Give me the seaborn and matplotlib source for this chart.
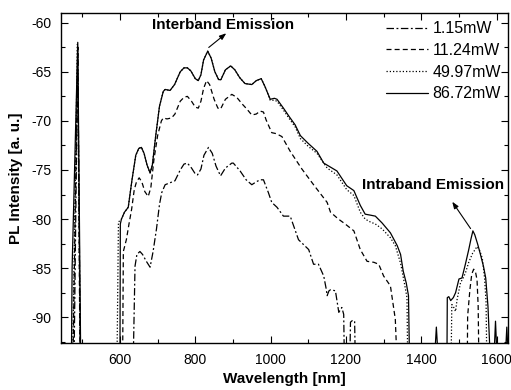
import numpy as np
import pandas as pd
import matplotlib
matplotlib.use("Agg")
import matplotlib.pyplot as plt
import seaborn as sns
from matplotlib.ticker import MultipleLocator

# wavelength [nm] / PL intensity [a.u.], -95 = below the axis
wl_86 = [471, 473, 488, 496,
         600, 601, 604, 612, 622, 632, 642, 650, 657, 664, 672, 680, 686, 695, 705, 715,
         720, 733, 745, 760, 770, 779, 788, 800, 808, 815, 822, 833, 842, 852, 862, 868,
         880, 894, 905, 918, 932, 950, 962, 975, 985, 999, 1010, 1017, 1034, 1050, 1065,
         1079, 1100, 1123, 1141, 1176, 1202, 1221, 1238, 1251, 1265, 1278, 1296, 1318,
         1336, 1345, 1352, 1360, 1366, 1369,
         1434, 1440, 1446,
         1468, 1469, 1473, 1478, 1485, 1491, 1500, 1508, 1517, 1526, 1532, 1537, 1542,
         1550, 1557, 1565, 1571, 1577, 1584,
         1592, 1597, 1602, 1622, 1627, 1632]
pl_86 = [-95, -85, -62.0, -95,
         -95, -80.5, -80.0, -79.3, -78.8, -76.0, -73.5, -72.8, -72.7, -73.3, -74.5, -75.3, -74.5, -71.5, -68.5, -67.0,
         -66.8, -66.9, -66.3, -65.0, -64.6, -64.6, -64.9, -65.7, -65.9, -65.3, -63.8, -62.9, -63.6, -65.0, -65.8, -65.8,
         -64.8, -64.4, -64.8, -65.6, -66.2, -66.3, -65.9, -65.7, -66.5, -67.8, -67.7, -67.8, -68.7, -69.6, -70.4,
         -71.5, -72.3, -73.1, -74.3, -75.1, -76.6, -77.1, -78.6, -79.5, -79.6, -79.7, -80.4, -81.4,
         -82.7, -83.6, -85.3, -86.5, -87.8, -95,
         -95, -91.0, -95,
         -95, -88.0, -87.9, -88.3, -88.0, -87.5, -86.1, -86.0, -84.6, -83.1, -82.0, -81.2, -81.6,
         -82.6, -83.6, -84.8, -86.0, -88.9, -95,
         -95, -90.4, -95, -95, -91.0, -95]

wl_50 = [474, 487, 495,
         592, 596, 604, 612, 622, 632, 642, 650, 657, 664, 672, 680, 686, 695, 705, 715,
         720, 733, 745, 760, 770, 779, 788, 800, 808, 815, 822, 833, 842, 852, 862, 868,
         880, 894, 905, 918, 932, 950, 962, 975, 985, 999, 1010, 1017, 1034, 1050, 1065,
         1079, 1100, 1123, 1150, 1176, 1202, 1221, 1238, 1251, 1265, 1278, 1296, 1318,
         1331, 1345, 1355, 1362, 1364,
         1479, 1481, 1485, 1491, 1495, 1504, 1511, 1517, 1526, 1536, 1548, 1555, 1562,
         1568, 1572, 1574]
pl_50 = [-95, -62.2, -95,
         -95, -80.3, -80.0, -79.3, -78.8, -76.0, -73.5, -72.8, -72.7, -73.3, -74.5, -75.3, -74.5, -71.5, -68.5, -67.0,
         -66.8, -66.9, -66.3, -65.0, -64.6, -64.6, -64.9, -65.7, -65.9, -65.3, -63.8, -62.9, -63.6, -65.0, -65.8, -65.8,
         -64.8, -64.4, -64.8, -65.6, -66.2, -66.3, -65.9, -65.7, -66.5, -67.9, -67.9, -68.0, -68.9, -69.8, -70.6,
         -71.8, -72.6, -73.3, -74.8, -75.5, -77.0, -77.6, -79.3, -80.0, -80.3, -80.5, -81.0, -81.9,
         -82.7, -84.5, -86.5, -88.0, -95,
         -95, -88.7, -88.9, -89.4, -88.2, -86.5, -86.0, -85.5, -84.4, -83.5, -82.8, -83.2, -84.0,
         -86.0, -88.5, -95]

wl_11 = [475, 488, 494,
         607, 609, 617, 624, 631, 638, 644, 651, 658, 666, 675, 682, 690, 700, 710, 715,
         725, 737, 746, 760, 770, 779, 790, 800, 808, 815, 822, 830, 838, 850, 860, 867,
         880, 897, 910, 925, 937, 950, 962, 972, 981, 988, 1003, 1015, 1030, 1052, 1083,
         1114, 1150, 1159, 1180, 1198, 1221, 1238, 1256, 1274, 1287, 1300, 1318, 1331, 1336,
         1522, 1523, 1529, 1534, 1539, 1544, 1548, 1551, 1553]
pl_11 = [-95, -62.5, -95,
         -95, -83.3, -82.1, -80.5, -79.0, -77.0, -76.2, -75.8, -76.2, -77.2, -77.7, -76.8, -74.0, -71.5, -70.0, -69.7,
         -69.8, -69.7, -69.3, -68.0, -67.6, -67.5, -68.0, -68.6, -68.7, -68.0, -66.7, -65.9, -66.3, -67.8, -68.7, -68.8,
         -67.8, -67.3, -67.6, -68.3, -68.8, -69.4, -69.3, -69.0, -69.1, -69.9, -71.2, -71.3, -71.6, -73.1, -74.9,
         -76.5, -78.3, -79.3, -80.0, -80.5, -81.2, -83.1, -84.3, -84.4, -84.6, -85.8, -86.8, -90.2, -95,
         -95, -89.9, -87.2, -85.6, -85.1, -85.4, -86.2, -88.9, -95]

wl_1 = [478, 488, 495,
        635, 640, 645, 653, 660, 670, 680, 688, 697, 705, 711, 720, 733, 746, 760, 770,
        779, 790, 800, 806, 815, 823, 835, 845, 855, 867, 880, 897, 901, 919, 935, 950,
        962, 972, 981, 994, 1003, 1017, 1034, 1052, 1074, 1101, 1114, 1127, 1141, 1148,
        1150, 1155, 1159, 1172, 1181, 1189, 1194, 1196,
        1210, 1212, 1218, 1223, 1225]
pl_1 = [-95, -62.5, -95,
        -95, -84.8, -83.6, -83.3, -83.6, -84.3, -84.9, -83.3, -81.0, -78.5, -77.3, -76.5, -76.3, -76.1, -75.0, -74.4,
        -74.3, -74.8, -75.4, -75.5, -74.9, -73.5, -72.7, -73.3, -74.6, -75.6, -74.8, -74.3, -74.3, -75.1, -76.0, -76.5,
        -76.2, -76.0, -76.0, -77.3, -78.3, -78.8, -79.7, -79.7, -82.1, -83.1, -84.6, -84.6, -85.8, -87.2,
        -87.8, -87.3, -87.2, -87.3, -89.5, -89.0, -89.7, -95,
        -95, -90.5, -90.3, -90.4, -95]

labels = ["1.15mW", "11.24mW", "49.97mW", "86.72mW"]
styles = [(0, (6, 2, 1.5, 2)), (0, (4, 2.5)), (0, (1, 1.6)), "-"]

sns.set_style("ticks", {"axes.edgecolor": "black", "text.color": "black",
                        "xtick.color": "black", "ytick.color": "black",
                        "axes.labelcolor": "black"})
plt.rcParams["font.family"] = ["Liberation Sans", "DejaVu Sans"]
plt.rcParams["axes.unicode_minus"] = False

fig = plt.figure(figsize=(5.11, 3.9), dpi=100)
ax = fig.add_axes([0.119, 0.121, 0.875, 0.846])

series = [(wl_1, pl_1), (wl_11, pl_11), (wl_50, pl_50), (wl_86, pl_86)]
for (wl, pl), lab, ls in zip(series, labels, styles):
    df = pd.DataFrame({"wl": wl, "pl": pl})
    sns.lineplot(data=df, x="wl", y="pl", ax=ax, color="black", lw=0.9,
                 linestyle=ls, label=lab, sort=False, estimator=None)

ax.set_xlim(443, 1630)
ax.set_ylim(-92.6, -59)
ax.xaxis.set_major_locator(MultipleLocator(200))
ax.xaxis.set_minor_locator(MultipleLocator(100))
ax.yaxis.set_major_locator(MultipleLocator(5))
ax.yaxis.set_minor_locator(MultipleLocator(2.5))
ax.tick_params(which="both", direction="in", top=True, right=True, width=0.8, labelsize=10)
ax.tick_params(which="major", length=5, pad=7)
ax.tick_params(which="minor", length=3)
for s in ax.spines.values():
    s.set_linewidth(1.0)

ax.set_xlabel("Wavelength [nm]", fontsize=11, fontweight="bold", labelpad=4)
ax.set_ylabel("PL Intensity [a. u.]", fontsize=11, fontweight="bold", labelpad=6)

ax.legend(loc="upper right", bbox_to_anchor=(0.985, 0.975), frameon=False,
          fontsize=11.5, handlelength=2.6, handletextpad=0.3, labelspacing=0.42,
          borderaxespad=0, borderpad=0)

ax.text(874, -60.2, "Interband Emission", ha="center", va="center",
        fontsize=11, fontweight="bold")
ax.annotate("", xy=(888, -60.9), xytext=(830, -62.7),
            arrowprops=dict(arrowstyle="-|>,head_length=0.4,head_width=0.15", color="black", lw=0.8))
ax.text(1432, -76.5, "Intraband Emission", ha="center", va="center",
        fontsize=11, fontweight="bold")
ax.annotate("", xy=(1478, -78.0), xytext=(1535, -81.2),
            arrowprops=dict(arrowstyle="-|>,head_length=0.4,head_width=0.15", color="black", lw=0.8))

fig.savefig("out.png", dpi=100)
